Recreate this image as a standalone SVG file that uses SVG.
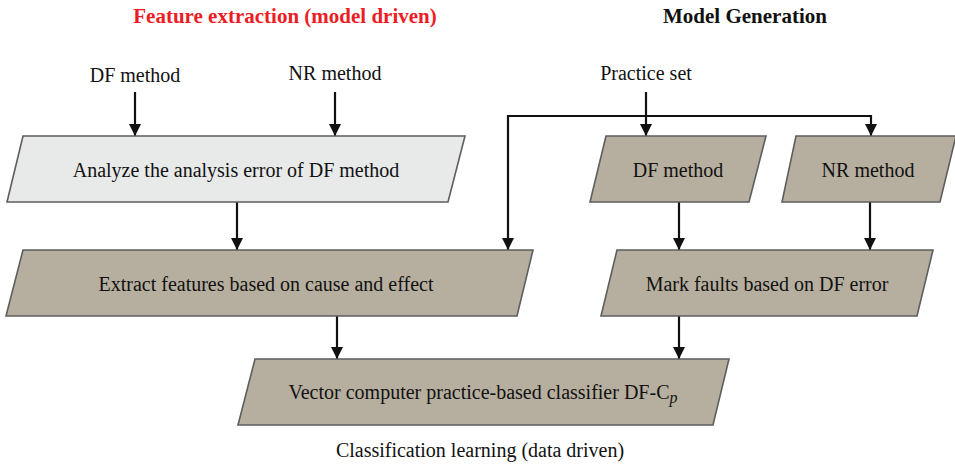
<svg xmlns="http://www.w3.org/2000/svg" width="955" height="467" viewBox="0 0 955 467">
<defs>
<marker id="ah" viewBox="0 0 10 10" refX="10" refY="5" markerWidth="5.5" markerHeight="5.5" orient="auto" markerUnits="strokeWidth">
<path d="M0,0 L10,5 L0,10 z" fill="#111"/>
</marker>
</defs>
<style>
.t{font-family:"Liberation Serif","Times New Roman",serif;font-size:20px;fill:#111;text-anchor:middle}
.h{font-family:"Liberation Serif","Times New Roman",serif;font-size:21px;font-weight:bold;text-anchor:middle}
.box{fill:#b6af9f;stroke:#5e5e5e;stroke-width:1.6}
.lbox{fill:#e8e9e9;stroke:#5e5e5e;stroke-width:1.6}
.c{fill:none;stroke:#111;stroke-width:2.2}
.a{marker-end:url(#ah)}
</style>
<rect width="955" height="467" fill="#fff"/>
<text class="h" x="285" y="23" fill="#ee1c24">Feature extraction (model driven)</text>
<text class="h" x="745" y="23" fill="#111">Model Generation</text>
<text class="t" x="135" y="82">DF method</text>
<text class="t" x="335" y="80">NR method</text>
<text class="t" x="646" y="80">Practice set</text>
<text class="t" x="480" y="457">Classification learning (data driven)</text>
<g id="connectors">
<line class="c a" x1="135" y1="92" x2="135" y2="136"/>
<line class="c a" x1="335" y1="92" x2="335" y2="136"/>
<line class="c a" x1="646" y1="92" x2="646" y2="136"/>
<polyline class="c a" points="646,116 508,116 508,250"/>
<polyline class="c a" points="646,116 871,116 871,136"/>
<line class="c a" x1="237" y1="202" x2="237" y2="250"/>
<line class="c a" x1="679" y1="202" x2="679" y2="250"/>
<line class="c a" x1="870" y1="202" x2="870" y2="250"/>
<line class="c a" x1="337" y1="316" x2="337" y2="359"/>
<line class="c a" x1="679" y1="316" x2="679" y2="359"/>
</g>
<g id="analyze">
<polygon class="lbox" points="23,136 465,136 448,202 7,202"/>
<text class="t" x="236" y="177">Analyze the analysis error of DF method</text>
</g>
<g id="df">
<polygon class="box" points="606,136 766,136 749,202 590,202"/>
<text class="t" x="678" y="177">DF method</text>
</g>
<g id="nr">
<polygon class="box" points="796,136 956,136 940,202 782,202"/>
<text class="t" x="868" y="177">NR method</text>
</g>
<g id="extract">
<polygon class="box" points="23,250 533,250 517,316 6,316"/>
<text class="t" x="266" y="291">Extract features based on cause and effect</text>
</g>
<g id="mark">
<polygon class="box" points="617,250 933,250 917,316 601,316"/>
<text class="t" x="767" y="291">Mark faults based on DF error</text>
</g>
<g id="vector">
<polygon class="box" points="255,359 729,359 713,425 238,425"/>
<text class="t" x="483" y="399">Vector computer practice-based classifier DF-C<tspan font-style="italic" font-size="16" dy="4">p</tspan></text>
</g>
</svg>
